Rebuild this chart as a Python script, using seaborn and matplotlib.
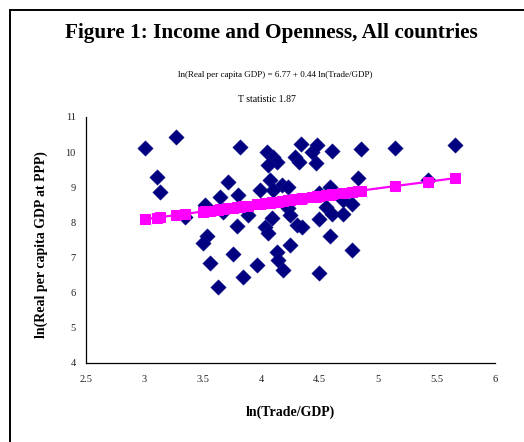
import matplotlib
matplotlib.use("Agg")
import matplotlib.pyplot as plt
from matplotlib.lines import Line2D
import numpy as np
import pandas as pd
import seaborn as sns

# Country observations: log openness and log income
trade_gdp = [
    3.004, 3.269, 3.106, 3.132, 3.345, 3.516, 3.644, 3.713, 3.798, 3.670,
    3.789, 3.883, 3.815, 3.533, 3.499, 3.755, 3.559, 3.960, 3.841, 3.627,
    4.046, 4.097, 4.131, 4.054, 4.336, 4.430, 4.285, 4.327, 4.464, 4.071,
    4.174, 3.986, 4.097, 4.225, 4.088, 4.225, 4.242, 4.302, 4.345, 4.029,
    4.054, 4.242, 4.131, 4.140, 4.182, 4.498, 4.473, 4.609, 4.857, 5.147,
    5.660, 4.831, 5.429, 4.584, 4.498, 4.695, 4.780, 4.558, 4.609, 4.695,
    4.498, 4.584, 4.780,
]
real_gdp = [
    10.11, 10.43, 9.29, 8.86, 8.15, 8.49, 8.72, 9.15, 8.78, 8.29,
    7.90, 8.21, 10.14, 7.61, 7.41, 7.10, 6.84, 6.79, 6.45, 6.16,
    10.00, 9.86, 9.72, 9.63, 10.23, 10.00, 9.86, 9.72, 9.69, 9.20,
    9.06, 8.92, 8.92, 9.00, 8.12, 8.41, 8.21, 7.92, 7.87, 7.87,
    7.70, 7.36, 7.16, 6.93, 6.64, 6.56, 10.20, 10.03, 10.08, 10.11,
    10.20, 9.26, 9.20, 9.00, 8.83, 8.63, 8.52, 8.44, 8.24, 8.24,
    8.09, 7.61, 7.21,
]

# Regression: ln(Real per capita GDP) = 6.77 + 0.44 ln(Trade/GDP)
intercept = 6.77
slope = 0.44

x_ticks = [2.5, 3, 3.5, 4, 4.5, 5, 5.5, 6]
y_ticks = [4, 5, 6, 7, 8, 9, 10, 11]

df = pd.DataFrame({"trade": trade_gdp, "gdp": real_gdp})
df["fitted"] = intercept + slope * df["trade"]

sns.set_theme(style="white")
plt.rcParams["font.family"] = ["Liberation Serif", "DejaVu Serif"]
plt.rcParams["text.color"] = "black"
plt.rcParams["axes.labelcolor"] = "black"
plt.rcParams["xtick.color"] = "black"
plt.rcParams["ytick.color"] = "black"

fig = plt.figure(figsize=(5.24, 4.42), dpi=100)
ax = fig.add_axes([86 / 524, 1 - 363 / 442, 409 / 524, 246 / 442])

sns.scatterplot(data=df, x="trade", y="gdp", marker="D", s=62,
                color="#000080", edgecolor="#1a1a8c", linewidth=0.3,
                ax=ax, zorder=2)
sns.lineplot(data=df, x="trade", y="fitted", marker="s", markersize=7.8,
             color="#FF00FF", markeredgecolor="#FF00FF", linewidth=1.6,
             estimator=None, ax=ax, zorder=3)

ax.set_xlim(2.5, 6)
ax.set_ylim(4, 11)
ax.set_xticks(x_ticks)
ax.set_xticklabels([f"{t:g}" for t in x_ticks])
ax.set_yticks(y_ticks)
ax.set_yticklabels([f"{t:g}" for t in y_ticks])

for side in ("top", "right"):
    ax.spines[side].set_visible(False)
for side in ("left", "bottom"):
    ax.spines[side].set_color("black")
    ax.spines[side].set_linewidth(0.9)

ax.tick_params(axis="both", direction="inout", length=7, width=0.9,
               color="black", labelsize=7.5, labelcolor="#222222")
ax.tick_params(axis="x", pad=5)
ax.tick_params(axis="y", pad=4)

ax.set_xlabel("ln(Trade/GDP)", fontsize=10, fontweight="bold", color="black")
ax.set_ylabel("ln(Real per capita GDP at PPP)", fontsize=10, fontweight="bold",
              color="black")
ax.xaxis.set_label_coords(0.499, -0.171)
ax.yaxis.set_label_coords(-0.093, 0.48)

fig.text(271 / 524, 1 - 33 / 442, "Figure 1: Income and Openness, All countries",
         ha="center", va="center", fontsize=15.3, fontweight="bold", color="black")
fig.text(275.5 / 524, 1 - 75 / 442,
         f"ln(Real per capita GDP) = {intercept:.2f} + {slope:.2f} ln(Trade/GDP)",
         ha="center", va="center", fontsize=6.5, color="black")
fig.text(267 / 524, 1 - 99 / 442, "T statistic 1.87",
         ha="center", va="center", fontsize=7, color="black")

# Frame around the chart area (left and top edges)
fig.add_artist(Line2D([9.5 / 524, 9.5 / 524], [0, 1 - 9.5 / 442],
                      transform=fig.transFigure, color="black", linewidth=1.4))
fig.add_artist(Line2D([9.5 / 524, 1], [1 - 9.5 / 442, 1 - 9.5 / 442],
                      transform=fig.transFigure, color="black", linewidth=1.4))

fig.savefig("out.png", dpi=100, facecolor="white")
